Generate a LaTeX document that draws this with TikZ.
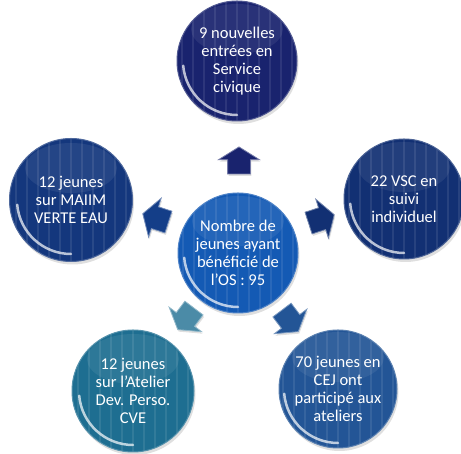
\documentclass[tikz,border=0pt]{standalone}
\usepackage{fontspec}
\setmainfont{Carlito}
\usetikzlibrary{shapes.arrows,calc,shadows}
\definecolor{navyblue}{RGB}{25,35,110}
\definecolor{corebblue}{RGB}{20,90,180}
\definecolor{deepblue}{RGB}{20,55,125}
\definecolor{inkblue}{RGB}{18,48,115}
\definecolor{tealblue}{RGB}{30,110,145}
\definecolor{steelblue}{RGB}{35,85,150}

\begin{document}
\begin{tikzpicture}[x=1pt, y=1pt,
    bubble/.style={circle, fill=#1, draw=#1!75!white, line width=1pt,
        minimum size=120pt, inner sep=0pt, align=center, text=white,
        font=\fontsize{16.5}{18}\selectfont,
        drop shadow={opacity=0.25, shadow xshift=1.5pt, shadow yshift=-3pt},
        path picture={
            \foreach \k in {-5,...,5}
                \draw[white, opacity=0.09, line width=1.2pt]
                    ([xshift=\k*11pt]path picture bounding box.north) --
                    ([xshift=\k*11pt]path picture bounding box.south);
            \fill[white, opacity=0.07] ($(path picture bounding box.center)+(0,32pt)$)
                ellipse[x radius=46pt, y radius=25pt];
            \draw[white, opacity=0.7, line width=2.5pt, line cap=round]
                ($(path picture bounding box.center)+(185:54pt)$)
                arc[start angle=185, end angle=270, radius=54pt];
        }},
    pointer/.style={single arrow, fill=#1, draw=#1!60!white, line width=0.8pt,
        minimum height=27pt, inner xsep=0pt, inner ysep=11pt,
        single arrow head extend=9pt, single arrow tip angle=116,
        drop shadow={opacity=0.25, shadow xshift=1pt, shadow yshift=-2pt}}
]
\useasboundingbox (0,0) rectangle (461,454);

% centre and the five outer bubbles
\node[bubble=corebblue] (core) at (238,201) {Nombre de\\jeunes ayant\\bénéficié de\\l'OS : 95};
\node[bubble=navyblue] (service) at (237,393) {9 nouvelles\\entrées en\\Service\\civique};
\node[bubble=deepblue, minimum size=123pt] (maiim) at (71,254) {12 jeunes\\sur MAIIM\\VERTE EAU};
\node[bubble=inkblue] (vsc) at (404,255) {22 VSC en\\suivi\\individuel};
\node[bubble=tealblue, minimum size=122pt] (atelier) at (133,63) {12 jeunes\\sur l'Atelier\\Dev. Perso.\\CVE};
\node[bubble=steelblue, minimum size=118pt] (cej) at (338,65) {70 jeunes en\\CEJ ont\\participé aux\\ateliers};

% block arrows between them
\node[pointer=navyblue, rotate=90] (toservice) at (239,290) {};
\node[pointer=deepblue!80!corebblue, rotate=162] (tomaiim) at (159,235) {};
\node[pointer=inkblue, rotate=18] (tovsc) at (318,234) {};
\node[pointer=tealblue!80!white, rotate=233] (toatelier) at (188,138) {};
\node[pointer=steelblue, rotate=307] (tocej) at (288,136) {};
\end{tikzpicture}
\end{document}
